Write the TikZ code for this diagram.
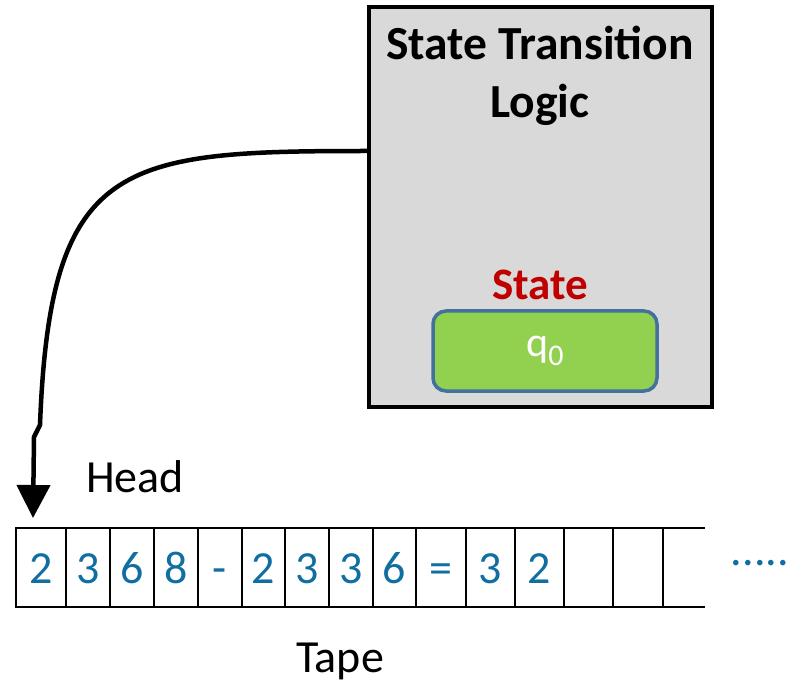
\documentclass[tikz,border=0pt]{standalone}
\usepackage{fontspec}
\setmainfont{Carlito}
\usetikzlibrary{arrows.meta}
\definecolor{boxgray}{HTML}{D9D9D9}
\definecolor{stategreen}{HTML}{92D050}
\definecolor{stateedge}{HTML}{41719C}
\definecolor{statered}{HTML}{C00000}
\definecolor{tapeblue}{RGB}{16,110,160}
\tikzset{>={Triangle[width=33pt,length=33pt]}}
\tikzset{
  cell/.style={draw, line width=2.6pt, minimum height=79pt, inner sep=0pt, outer sep=0pt,
    text=tapeblue, text height=31pt, text depth=0pt,
    font=\fontsize{46}{46}\selectfont},
  lbl/.style={inner sep=0pt, anchor=base, font=\fontsize{46}{46}\selectfont}
}

\begin{document}
\begin{tikzpicture}[x=1pt, y=-1pt]
      \useasboundingbox (0,0) rectangle (789,684);
      % control unit
      \node[draw, line width=4.2pt, fill=boxgray, minimum width=343pt, minimum height=400pt] (logic) at (540.5,207) {};
      \node[inner sep=0pt, anchor=base, align=center, font=\fontsize{47.5}{58}\selectfont\bfseries] (title) at (540,118) {State Transition\\Logic};
      \node[lbl, text=statered, font=\fontsize{45}{45}\selectfont\bfseries] (statelbl) at (540,300) {State};
      \node[draw=stateedge, line width=3.5pt, fill=stategreen, rounded corners=13pt, minimum width=224pt, minimum height=80pt,
        text=white, font=\fontsize{42}{42}\selectfont] (q0) at (545,351) {q\raisebox{-9pt}{\fontsize{30}{30}\selectfont 0}};
      % tape cells
      \foreach \xa/\xb/\t [count=\i] in {16/66/2, 66/110/3, 110/154/6, 154/198/8, 198/242/-, 242/285/2, 285/329/3,
          329/373/3, 373/416/6, 416/466/=, 466/515/3, 515/564/2, 564/613/, 613/663/}
        \node[cell, minimum width=\xb pt-\xa pt] (c\i) at ({(\xa+\xb)/2},567.5) {\t};
      \coordinate (tapeend) at (705,567.5);
      \draw[line width=2.6pt] (c14.north east) -- (c14.north east -| tapeend);
      \draw[line width=2.6pt] (c14.south east) -- (c14.south east -| tapeend);
      \node[lbl, text=tapeblue] (dots) at (760,565) {.....};
      \node[lbl] (tapelbl) at (340,672) {Tape};
      \node[lbl, anchor=base west] (headlbl) at (86,492) {Head};
      % head connection
      \coordinate (bend) at (40,425);
      \coordinate (kink) at (34,437);
      \coordinate (tip) at (33,518);
      \draw[line width=4.5pt, ->] (logic.west |- 0,151) .. controls (120,151) and (50,160) .. (bend) -- (kink) -- (tip);
\end{tikzpicture}
\end{document}
